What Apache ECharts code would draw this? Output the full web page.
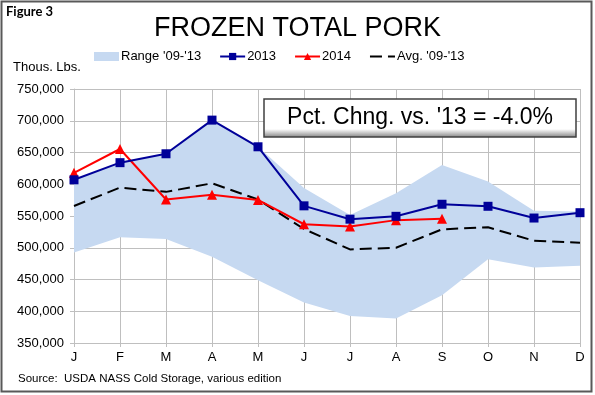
<!DOCTYPE html>
<html>
<head>
<meta charset="utf-8">
<script src="https://cdn.jsdelivr.net/npm/echarts@6/dist/echarts.min.js"></script>
<style>
html,body{margin:0;padding:0;background:#fff;}
#chart{width:595px;height:395px;}
</style>
</head>
<body>
<div id="chart"></div>
<script>
const months = ['J','F','M','A','M','J','J','A','S','O','N','D'];
const rangeLow  = [492700, 516400, 513700, 485800, 449000, 413800, 392600, 388500, 425300, 481700, 469000, 471600];
const rangeHigh = [607000, 634000, 648000, 701000, 659000, 594000, 551600, 585800, 630500, 604200, 558400, 557000];
const y2013 = [607000, 634000, 648000, 701000, 659000, 566000, 545000, 549500, 568500, 565300, 546800, 555200];
const y2014 = [618000, 655500, 576000, 583500, 575300, 537000, 533500, 543500, 545500];
const avg0913 = [565800, 594700, 588000, 601500, 576000, 529500, 497400, 500000, 529000, 532200, 511000, 507900];
const yTicks = { min: 350000, max: 750000, step: 50000 };

const rangeSpan = rangeHigh.map((v, i) => v - rangeLow[i]);
const FONT = '"Liberation Sans", Arial, sans-serif';

const chart = echarts.init(document.getElementById('chart'), null, { renderer: 'canvas' });
chart.setOption({
  animation: false,
  backgroundColor: '#ffffff',
  textStyle: { fontFamily: FONT },
  title: {
    text: 'FROZEN TOTAL PORK',
    left: 'center',
    top: 10,
    textStyle: { fontFamily: FONT, fontSize: 27, fontWeight: 'normal', color: '#000' }
  },
  legend: {
    left: 89,
    top: 45,
    itemWidth: 25,
    itemHeight: 9,
    itemGap: 18,
    textStyle: { fontFamily: FONT, fontSize: 13, color: '#000', padding: [0, 0, 0, -3] },
    data: [
      { name: "Range '09-'13", icon: 'rect' },
      '2013', '2014',
      { name: "Avg. '09-'13", itemStyle: { opacity: 0 } }
    ]
  },
  grid: { left: 74, right: 15, top: 89, bottom: 52, containLabel: false },
  xAxis: {
    type: 'category',
    data: months,
    boundaryGap: false,
    axisLine: { show: true, lineStyle: { color: '#bfbfbf', width: 1 } },
    axisTick: { show: true, length: 4, lineStyle: { color: '#bfbfbf' } },
    axisLabel: { fontFamily: FONT, fontSize: 13, color: '#000', margin: 8 },
    splitLine: { show: true, lineStyle: { color: '#bfbfbf', width: 1 } }
  },
  yAxis: {
    type: 'value',
    min: yTicks.min,
    max: yTicks.max,
    interval: yTicks.step,
    axisLine: { show: true, lineStyle: { color: '#bfbfbf', width: 1 } },
    axisTick: { show: true, length: 4, lineStyle: { color: '#bfbfbf' } },
    axisLabel: {
      fontFamily: FONT, fontSize: 13, color: '#000', margin: 10,
      formatter: v => v.toLocaleString('en-US')
    },
    splitLine: { show: true, lineStyle: { color: '#bfbfbf', width: 1 } }
  },
  series: [
    {
      name: 'rangeBase', type: 'line', stack: 'range', data: rangeLow,
      symbol: 'none', lineStyle: { opacity: 0 }, silent: true, z: 1
    },
    {
      name: "Range '09-'13", type: 'line', stack: 'range', data: rangeSpan,
      symbol: 'none', lineStyle: { opacity: 0, width: 0 },
      itemStyle: { color: '#c6d9f1' },
      areaStyle: { color: '#c6d9f1', opacity: 1 }, z: 1
    },
    {
      name: "Avg. '09-'13", type: 'line', data: avg0913,
      symbol: 'none',
      itemStyle: { color: '#000' },
      lineStyle: { color: '#000', width: 2, type: [12, 6] }, z: 3
    },
    {
      name: '2014', type: 'line', data: y2014,
      symbol: 'triangle', symbolSize: 10,
      itemStyle: { color: '#ff0000' },
      lineStyle: { color: '#ff0000', width: 2 }, z: 4
    },
    {
      name: '2013', type: 'line', data: y2013,
      symbol: 'rect', symbolSize: 9,
      itemStyle: { color: '#000099' },
      lineStyle: { color: '#000099', width: 2 }, z: 5
    }
  ],
  graphic: [
    {
      type: 'rect', z: 100, silent: true,
      shape: { x: 1.5, y: 1.5, width: 590, height: 390 },
      style: { fill: 'none', stroke: '#595959', lineWidth: 2 }
    },
    {
      type: 'text', z: 100, left: 6, top: 5,
      style: { text: 'Figure 3', font: 'bold 13px Lato, "Liberation Sans", sans-serif', fill: '#000' }
    },
    {
      type: 'text', z: 100, left: 13, top: 61,
      style: { text: 'Thous. Lbs.', font: '13px "Liberation Sans", Arial, sans-serif', fill: '#000' }
    },
    {
      type: 'text', z: 100, left: 18, top: 373,
      style: { text: 'Source:  USDA NASS Cold Storage, various edition', font: '11.5px "Liberation Sans", Arial, sans-serif', fill: '#000' }
    },
    {
      type: 'rect', z: 100, silent: true,
      shape: { x: 264, y: 99, width: 312, height: 38 },
      style: {
        stroke: '#404040', lineWidth: 1.5,
        fill: new echarts.graphic.LinearGradient(0, 0, 0, 1, [
          { offset: 0, color: '#ffffff' },
          { offset: 0.78, color: '#ffffff' },
          { offset: 1, color: '#7f7f7f' }
        ])
      }
    },
    {
      type: 'text', z: 101, x: 420, y: 118,
      style: {
        text: "Pct. Chng. vs. '13 = -4.0%",
        font: '23px "Liberation Sans", Arial, sans-serif', fill: '#000',
        textAlign: 'center', textVerticalAlign: 'middle'
      }
    }
  ]
});
</script>
</body>
</html>
